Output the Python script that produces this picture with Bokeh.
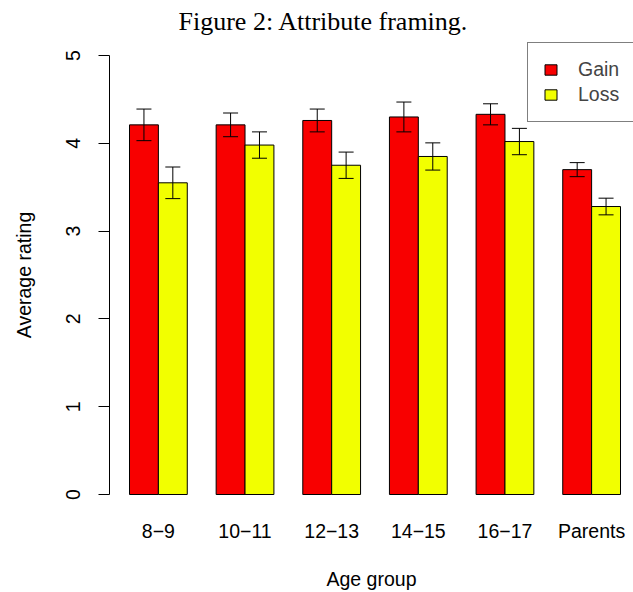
from bokeh.plotting import figure
from bokeh.models import (Range1d, FixedTicker, Whisker, TeeHead, ColumnDataSource,
                          Legend, LegendItem)
from bokeh.embed import file_html
from bokeh.resources import INLINE

# ---- data ----
groups = ["8\u22129", "10\u221211", "12\u221213", "14\u221215", "16\u221217", "Parents"]
gain_mean = [4.21, 4.21, 4.26, 4.30, 4.33, 3.70]
gain_se = [0.18, 0.135, 0.13, 0.17, 0.12, 0.08]
loss_mean = [3.55, 3.98, 3.75, 3.85, 4.02, 3.28]
loss_se = [0.18, 0.15, 0.15, 0.155, 0.15, 0.095]
series = ["Gain", "Loss"]
y_ticks = [0, 1, 2, 3, 4, 5]

title_text = "Figure 2: Attribute framing."
x_label = "Age group"
y_label = "Average rating"

RED = "#F80000"
YELLOW = "#F2FF00"
LABEL_FONT = "Liberation Sans"
LABEL_SIZE = "19.5px"

n = len(groups)
gain_x = [1.5 + 3 * i for i in range(n)]
loss_x = [2.5 + 3 * i for i in range(n)]
tick_x = [2 + 3 * i for i in range(n)]

src_g = ColumnDataSource(dict(x=gain_x, top=gain_mean,
                              lower=[m - s for m, s in zip(gain_mean, gain_se)],
                              upper=[m + s for m, s in zip(gain_mean, gain_se)]))
src_l = ColumnDataSource(dict(x=loss_x, top=loss_mean,
                              lower=[m - s for m, s in zip(loss_mean, loss_se)],
                              upper=[m + s for m, s in zip(loss_mean, loss_se)]))

p = figure(width=633, height=592,
           x_range=Range1d(0.3075, 18.45), y_range=Range1d(-0.205, 5.205),
           output_backend="svg", toolbar_location=None,
           min_border_left=109, min_border_right=0, min_border_top=37, min_border_bottom=80)

p.title.text = title_text
p.title.align = "left"
p.title.offset = 69
p.title.text_font = "Liberation Serif"
p.title.text_font_size = "26px"
p.title.text_font_style = "normal"
p.title.text_color = "black"
p.title.standoff = 4

rg = p.vbar(x="x", top="top", bottom=0, width=1, source=src_g,
            fill_color=RED, line_color="black", line_width=1)
rl = p.vbar(x="x", top="top", bottom=0, width=1, source=src_l,
            fill_color=YELLOW, line_color="black", line_width=1)

for src in (src_g, src_l):
    w = Whisker(source=src, base="x", upper="upper", lower="lower",
                line_color="black", line_width=1, level="annotation",
                upper_head=TeeHead(size=15, line_color="black", line_width=1),
                lower_head=TeeHead(size=15, line_color="black", line_width=1))
    p.add_layout(w)

p.grid.visible = False
p.outline_line_color = None
p.background_fill_color = "white"

xa = p.xaxis[0]
xa.ticker = FixedTicker(ticks=tick_x)
xa.major_label_overrides = {t: g for t, g in zip(tick_x, groups)}
xa.axis_line_color = None
xa.major_tick_line_color = None
xa.minor_tick_line_color = None
xa.major_label_standoff = 1
xa.major_label_text_font = LABEL_FONT
xa.major_label_text_font_size = LABEL_SIZE
xa.major_label_text_color = "black"
xa.axis_label = x_label
xa.axis_label_standoff = 23
xa.axis_label_text_font = LABEL_FONT
xa.axis_label_text_font_size = LABEL_SIZE
xa.axis_label_text_font_style = "normal"
xa.axis_label_text_color = "black"

ya = p.yaxis[0]
ya.ticker = FixedTicker(ticks=y_ticks)
ya.bounds = (0, 5)
ya.major_tick_out = 11
ya.major_tick_in = 0
ya.minor_tick_line_color = None
ya.major_label_orientation = "vertical"
ya.major_label_standoff = 18
ya.major_label_text_font = LABEL_FONT
ya.major_label_text_font_size = LABEL_SIZE
ya.major_label_text_color = "black"
ya.axis_line_color = "black"
ya.major_tick_line_color = "black"
ya.axis_label = y_label
ya.axis_label_standoff = 29
ya.axis_label_text_font = LABEL_FONT
ya.axis_label_text_font_size = LABEL_SIZE
ya.axis_label_text_font_style = "normal"
ya.axis_label_text_color = "black"

legend = Legend(items=[LegendItem(label=series[0], renderers=[rg]),
                       LegendItem(label=series[1], renderers=[rl])],
                location=(418, 390), orientation="vertical",
                border_line_color="black", border_line_width=1,
                background_fill_color="white", background_fill_alpha=1,
                padding=15, spacing=2, margin=0,
                glyph_width=15, glyph_height=13, label_standoff=20, label_height=22,
                label_text_font=LABEL_FONT, label_text_font_size=LABEL_SIZE)
p.add_layout(legend)

open("out.html", "w").write(file_html(p, INLINE))
